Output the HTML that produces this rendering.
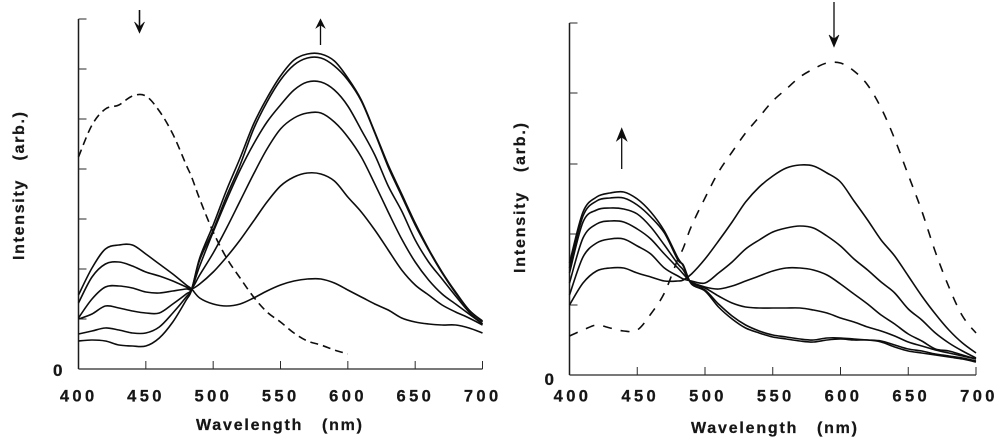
<!DOCTYPE html>
<html lang="en">
<head>
<meta charset="utf-8">
<title>Intensity vs wavelength spectra</title>
<style>
html,body{margin:0;padding:0;background:#fff;}
svg{display:block;}
text{font-family:"Liberation Sans",Arial,sans-serif;font-weight:bold;fill:#151515;stroke:#151515;stroke-width:0.25;}
</style>
</head>
<body>
<svg id="figure" xmlns="http://www.w3.org/2000/svg" width="1000" height="443" viewBox="0 0 1000 443">
  <defs>
    <filter id="soft" x="0" y="0" width="100%" height="100%"><feGaussianBlur stdDeviation="0.35"/></filter>
  </defs>
  <rect x="0" y="0" width="1000" height="443" fill="#fff"/>
  <g filter="url(#soft)">
    <g id="left-panel"></g>
    <g id="right-panel"></g>
    <text x="196" y="430" font-size="16" textLength="166" style="white-space:pre">Wavelength   (nm)</text>
    <text x="691" y="433" font-size="16" textLength="166" style="white-space:pre">Wavelength   (nm)</text>
    <text transform="translate(24,260) rotate(-90)" font-size="16" textLength="148" style="white-space:pre">Intensity   (arb.)</text>
    <text transform="translate(525,273) rotate(-90)" font-size="16" textLength="150" style="white-space:pre">Intensity   (arb.)</text>
    <text x="53" y="376" font-size="17">0</text>
    <text x="544.5" y="385" font-size="17">0</text>
    <g fill="none" stroke="#111">
      <path d="M139.5 10V31" stroke-width="1.6"/>
      <path d="M134.5 22L139.5 33L144.5 22L139.5 27Z" fill="#111" stroke-width="0.6"/>
    </g>
    <g fill="none" stroke="#111">
      <path d="M320.5 22V45" stroke-width="1.3"/>
      <path d="M316 28L320.5 19L325 28L320.5 25Z" fill="#111" stroke-width="0.6"/>
    </g>
    <g fill="none" stroke="#111">
      <path d="M621.7 132V169" stroke-width="1.3"/>
      <path d="M616.5 141L621.7 128L627 141L621.7 137Z" fill="#111" stroke-width="0.6"/>
    </g>
    <g fill="none" stroke="#111">
      <path d="M834 2V44" stroke-width="1.3"/>
      <path d="M829 35L834 47L839 35L834 39Z" fill="#111" stroke-width="0.6"/>
    </g>
  </g>
</svg>
<script>
const wavelengths = [400,410,420,430,440,450,460,470,480,484,490,500,510,520,530,540,550,560,570,580,590,600,610,620,630,640,650,660,670,680,690,700];
const xTickLabels = [400,450,500,550,600,650,700];

const leftYTicks = [0,50,100,150,200,250,300,350];
const leftCurve1 = [74,101,120,124,124,115,105,95,84,80,71,65,63,65,71,78,84,88,90,90,86,79,72,65,59,51,47,45,44,44,41,36];
const leftCurve2 = [66,92,105,107,103,97,93,88,82,80,85,97,112,129,148,167,183,192,196,195,188,172,157,139,119,99,84,74,64,57,51,44];
const leftCurve3 = [51,70,82,83,81,77,76,78,80,80,94,116,141,168,195,220,240,251,256,256,247,232,212,185,157,130,107,89,75,65,55,45];
const leftCurve4 = [50,55,63,61,58,56,56,65,75,80,103,137,169,199,225,247,264,279,287,287,279,263,239,214,183,158,129,107,90,73,57,45];
const leftCurve5 = [35,38,41,39,36,36,42,56,72,80,109,139,173,204,240,267,289,304,311,311,303,289,268,236,202,173,144,119,96,76,59,47];
const leftCurve6 = [28,29,28,24,23,23,31,47,69,79,111,144,179,211,245,271,293,309,315,315,308,291,269,237,204,175,146,120,97,77,59,48];
const leftDashed = [212,244,260,264,273,273,258,235,204,192,170,137,111,91,72,57,47,36,28,24,19,15];

const rightYTicks = [0,70,141,211,282,352];
const rightCurve1 = [70,92,104,107,107,102,98,94,94,95,101,116,134,153,173,188,199,207,210,209,202,193,174,155,135,119,99,79,61,45,32,22];
const rightCurve2 = [80,118,132,136,136,129,121,107,99,96,94,92,102,113,126,135,143,147,149,147,139,129,116,105,93,82,66,55,42,32,24,17];
const rightCurve3 = [92,137,151,154,153,146,136,121,107,101,93,88,86,89,94,99,104,107,107,105,100,91,81,71,60,51,41,34,26,24,20,16];
const rightCurve4 = [102,153,165,167,166,161,148,130,111,105,92,87,79,72,68,67,67,67,67,65,62,57,53,48,44,39,33,29,25,22,19,16];
const rightCurve5 = [107,159,174,177,177,170,158,142,115,110,91,85,71,59,50,44,40,38,36,35,37,37,36,35,34,30,26,24,21,19,17,14];
const rightCurve6 = [112,163,178,182,183,176,163,144,117,109,91,84,68,56,47,42,38,36,34,33,35,36,35,35,33,28,24,22,20,18,16,13];
const rightDashed = [39,45,50,47,44,45,61,82,116,127,149,177,203,223,242,258,274,286,298,306,312,312,304,290,267,236,200,164,123,88,59,42];

const NS = 'http://www.w3.org/2000/svg';

function smoothPath(points) {
  let d = 'M' + points[0][0].toFixed(1) + ' ' + points[0][1].toFixed(1);
  for (let i = 0; i < points.length - 1; i++) {
    const p0 = points[Math.max(i - 1, 0)];
    const p1 = points[i];
    const p2 = points[i + 1];
    const p3 = points[Math.min(i + 2, points.length - 1)];
    const c1x = p1[0] + (p2[0] - p0[0]) / 6;
    const c1y = p1[1] + (p2[1] - p0[1]) / 6;
    const c2x = p2[0] - (p3[0] - p1[0]) / 6;
    const c2y = p2[1] - (p3[1] - p1[1]) / 6;
    d += 'C' + c1x.toFixed(1) + ' ' + c1y.toFixed(1) + ' ' + c2x.toFixed(1) + ' ' + c2y.toFixed(1) + ' ' + p2[0].toFixed(1) + ' ' + p2[1].toFixed(1);
  }
  return d;
}

function drawPanel(group, prefix, xScale, yScale, yTicks, curves, dashed, dashPattern, labelOffset) {
  const maxTick = yTicks[yTicks.length - 1];

  const yAxis = document.createElementNS(NS, 'line');
  
  
  yAxis.setAttribute('x1', xScale(400));
  yAxis.setAttribute('x2', xScale(400));
  yAxis.setAttribute('y1', yScale(maxTick));
  yAxis.setAttribute('y2', yScale(0));
  yAxis.setAttribute('stroke', '#1a1a1a');
  yAxis.setAttribute('stroke-width', '1.5');
  group.appendChild(yAxis);

  const xAxis = document.createElementNS(NS, 'line');
  
  
  xAxis.setAttribute('x1', xScale(400));
  xAxis.setAttribute('x2', xScale(700));
  xAxis.setAttribute('y1', yScale(0));
  xAxis.setAttribute('y2', yScale(0));
  xAxis.setAttribute('stroke', '#2a2a2a');
  xAxis.setAttribute('stroke-width', '1.3');
  group.appendChild(xAxis);

  yTicks.forEach(function (value) {
    if (value === 0) return;
    const tick = document.createElementNS(NS, 'line');
    
    
    tick.setAttribute('x1', xScale(400));
    tick.setAttribute('x2', xScale(400) + 8);
    tick.setAttribute('y1', yScale(value));
    tick.setAttribute('y2', yScale(value));
    tick.setAttribute('stroke', '#2a2a2a');
    tick.setAttribute('stroke-width', '1');
    group.appendChild(tick);
  });

  xTickLabels.forEach(function (value) {
    if (value !== 400) {
      const tick = document.createElementNS(NS, 'line');
      
      
      tick.setAttribute('x1', xScale(value));
      tick.setAttribute('x2', xScale(value));
      tick.setAttribute('y1', yScale(0));
      tick.setAttribute('y2', yScale(0) - 8);
      tick.setAttribute('stroke', '#2a2a2a');
      tick.setAttribute('stroke-width', '1');
      group.appendChild(tick);
    }
    const label = document.createElementNS(NS, 'text');
    
    
    label.setAttribute('x', xScale(value) + labelOffset);
    label.setAttribute('y', 401.5);
    label.setAttribute('font-size', '16.5');
    label.setAttribute('text-anchor', 'middle');
    label.setAttribute('letter-spacing', '3.4');
    label.textContent = value;
    group.appendChild(label);
  });

  curves.forEach(function (series, index) {
    const points = series.map(function (v, i) { return [xScale(wavelengths[i]), yScale(v)]; });
    const curve = document.createElementNS(NS, 'path');
    
    
    curve.setAttribute('d', smoothPath(points));
    curve.setAttribute('fill', 'none');
    curve.setAttribute('stroke', '#111');
    curve.setAttribute('stroke-width', '1.6');
    group.appendChild(curve);
  });

  const dashPoints = dashed.map(function (v, i) { return [xScale(wavelengths[i]), yScale(v)]; });
  const dash = document.createElementNS(NS, 'path');
  
  
  dash.setAttribute('d', smoothPath(dashPoints));
  dash.setAttribute('fill', 'none');
  dash.setAttribute('stroke', '#111');
  dash.setAttribute('stroke-width', '1.6');
  dash.setAttribute('stroke-dasharray', dashPattern);
  group.appendChild(dash);
}

function xLeft(nm) { return 78.5 + (nm - 400) * 1.3467; }
function yLeft(v) { return 369 - v; }
function xRight(nm) { return 569.5 + (nm - 400) * 1.355; }
function yRight(v) { return 375 - v; }

drawPanel(document.getElementById('left-panel'), 'left', xLeft, yLeft, leftYTicks,
  [leftCurve1, leftCurve2, leftCurve3, leftCurve4, leftCurve5, leftCurve6], leftDashed, '8 5', 0.2);
drawPanel(document.getElementById('right-panel'), 'right', xRight, yRight, rightYTicks,
  [rightCurve1, rightCurve2, rightCurve3, rightCurve4, rightCurve5, rightCurve6], rightDashed, '9 9', 3);
</script>
</body>
</html>
